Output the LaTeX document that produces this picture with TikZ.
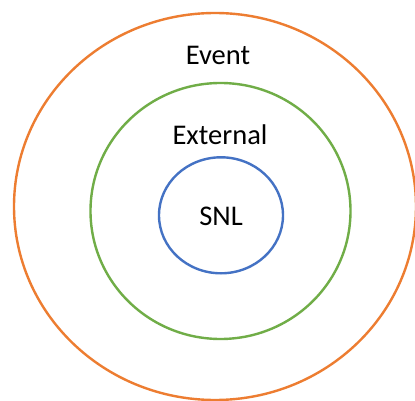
\documentclass[tikz,border=0pt]{standalone}
\usepackage{fontspec}
\setmainfont{Carlito}
\definecolor{orng}{HTML}{ED7D31}
\definecolor{grn}{HTML}{70AD47}
\definecolor{blu}{HTML}{4472C4}
\tikzset{ring/.style={line width=2.4pt},
  lbl/.style={anchor=base,inner sep=0pt,font=\fontsize{28.5}{30}\selectfont}}
\begin{document}
\begin{tikzpicture}[x=1pt,y=-1pt]
\useasboundingbox (0,0) rectangle (415,401);
\clip (0,0) rectangle (415,401);
\fill[white] (0,0) rectangle (415,401);
\draw[ring,orng] (215,206.5) ellipse [x radius=201, y radius=193.5];
\draw[ring,grn] (220.5,211) ellipse [x radius=130, y radius=128];
\draw[ring,blu] (221,215.3) ellipse [x radius=62, y radius=58];
\node[lbl] (event) at (218,65) {Event};
\node[lbl] (external) at (220,145) {External};
\node[lbl] (snl) at (221,225) {SNL};
\end{tikzpicture}
\end{document}
